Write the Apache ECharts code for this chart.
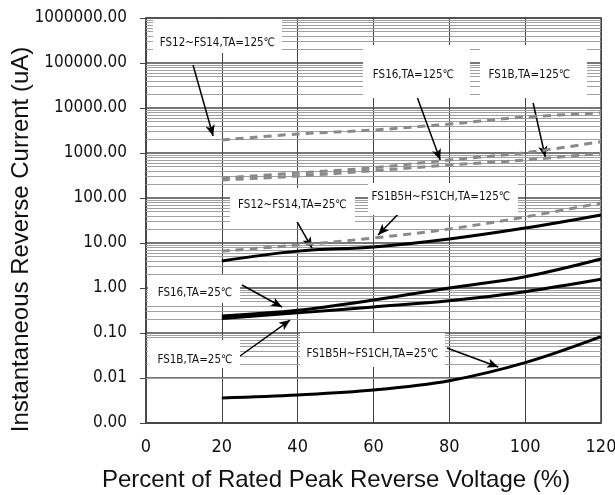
<!DOCTYPE html>
<html>
<head>
<meta charset="utf-8">
<script src="https://cdn.jsdelivr.net/npm/echarts@6/dist/echarts.min.js"></script>
<style>
  html, body { margin: 0; padding: 0; background: #fff; }
  #chart { width: 615px; height: 495px; }
</style>
</head>
<body>
<div id="chart"></div>
<script>
// percent of rated peak reverse voltage
var voltage = [20, 40, 60, 80, 100, 120];

// reverse current (uA)
var fs1214_125 = [1950, 2640, 3240, 4400, 6300, 7740];
var fs16_125 = [278, 359, 471, 699, 1016, 1780];
var fs1b_125 = [251, 308, 404, 541, 699, 985];
var fs1b5h_125 = [6.6, 9.0, 12.9, 20.5, 37.9, 77.7];
var fs1214_25 = [4.0, 6.6, 8.15, 12.3, 21.5, 41.9];
var fs16_25 = [0.24, 0.32, 0.54, 1.0, 1.78, 4.4];
var fs1b_25 = [0.21, 0.28, 0.38, 0.52, 0.83, 1.56];
var fs1b5h_25 = [0.0036, 0.0042, 0.0054, 0.0087, 0.0219, 0.0828];

var xTicks = [0, 20, 40, 60, 80, 100, 120];
var decades = [-3, -2, -1, 0, 1, 2, 3, 4, 5];

// callouts: text, box centre, arrow tail, arrow tip (data coords)
var notes = [
    { text: 'FS12~FS14,TA=125℃', box: [18.86, 398000], tail: [12.4, 90300], tip: [17.7, 2390] },
    { text: 'FS16,TA=125℃', box: [71.34, 64700], tail: [71.5, 17500], tip: [77.6, 699] },
    { text: 'FS1B,TA=125℃', box: [102.2, 64700], tail: [102.1, 12900], tip: [105.3, 815] },
    { text: 'FS12~FS14,TA=25℃', box: [38.64, 69.9], tail: [39.3, 35.9], tip: [43.8, 7.74] },
    { text: 'FS1B5H~FS1CH,TA=125℃', box: [78.33, 95], tail: [67.8, 57], tip: [61.2, 15.1] },
    { text: 'FS16,TA=25℃', box: [12.66, 0.95], tail: [25.3, 1.166], tip: [35.9, 0.378] },
    { text: 'FS1B,TA=25℃', box: [12.66, 0.0341], tail: [24.8, 0.0308], tip: [38, 0.194] },
    { text: 'FS1B5H~FS1CH,TA=25℃', box: [59.74, 0.0419], tail: [79.4, 0.0464], tip: [92.9, 0.0176] }
];
var boxSizes = [[129, 34], [107, 53], [107, 53], [125, 34], [150, 32], [92, 28], [92, 28], [145, 34]];
var textOffsets = [[0, 7], [-3, 4], [-4, 4], [0, 0], [-2, -2], [1, 4], [1, 6], [0, 4]];

var narrow = "'DejaVu Sans Condensed', 'Liberation Sans Narrow', Roboto, sans-serif";

var chart = echarts.init(document.getElementById('chart'));

function pairs(arr) {
    return voltage.map(function (v, i) { return [v, arr[i]]; });
}

function curve(name, arr, dashed) {
    return {
        name: name,
        type: 'line',
        data: pairs(arr),
        smooth: 0.35,
        showSymbol: false,
        z: 5,
        lineStyle: dashed
            ? { color: '#8a8a8a', width: 3, type: [8, 6] }
            : { color: '#000', width: 3 }
    };
}

// log minor grid lines 2..9 in each decade
var minorLines = [];
decades.forEach(function (d) {
    for (var k = 2; k <= 9; k++) {
        minorLines.push({ yAxis: k * Math.pow(10, d) });
    }
});

var option = {
    animation: false,
    backgroundColor: '#fff',
    grid: {
        left: 146, right: 14, top: 18, bottom: 72,
        outerBoundsMode: 'none',
        show: true, borderColor: '#444', borderWidth: 1.5
    },
    xAxis: {
        type: 'value',
        min: 0, max: 120, interval: 20,
        name: 'Percent of Rated Peak Reverse Voltage (%)',
        nameLocation: 'middle',
        nameGap: 45,
        nameTextStyle: { fontFamily: 'Liberation Sans', fontSize: 24, color: '#111', padding: [0, 75, 0, 0] },
        axisLine: { show: true, lineStyle: { color: '#444', width: 1.5 } },
        axisTick: { show: false },
        axisLabel: { fontFamily: narrow, fontSize: 18, color: '#111', margin: 15 },
        splitLine: { show: true, lineStyle: { color: '#444', width: 1 } }
    },
    yAxis: {
        type: 'log',
        logBase: 10,
        min: 0.001, max: 1000000,
        splitNumber: 9,
        name: 'Instantaneous Reverse Current (uA)',
        nameLocation: 'middle',
        nameGap: 113,
        nameMoveOverlap: false,
        nameTextStyle: { fontFamily: 'Liberation Sans', fontSize: 24, color: '#111', padding: [0, 38, 0, 0] },
        axisLine: { show: true, lineStyle: { color: '#444', width: 1.5 } },
        axisTick: { show: true, inside: false, length: 6, lineStyle: { color: '#444' } },
        axisLabel: {
            fontFamily: narrow, fontSize: 17, color: '#111', margin: 19,
            formatter: function (v) { return Number(v).toFixed(2); }
        },
        splitLine: { show: true, lineStyle: { color: '#4a4a4a', width: 1.5 } }
    },
    series: [
        {
            type: 'line', data: [], z: 1, silent: true,
            markLine: {
                silent: true, symbol: ['none', 'none'],
                label: { show: false },
                lineStyle: { color: '#a0a0a0', width: 1, type: 'solid' },
                data: minorLines
            }
        },
        {
            type: 'line', data: [], z: 3, silent: true,
            markPoint: {
                silent: true,
                data: notes.map(function (n, i) {
                    return {
                        coord: n.box,
                        symbol: 'rect',
                        symbolSize: boxSizes[i],
                        itemStyle: { color: '#fff' },
                        label: {
                            show: true, position: 'inside', formatter: n.text,
                            offset: textOffsets[i],
                            fontFamily: narrow, fontSize: 11.5, color: '#111'
                        }
                    };
                })
            }
        },
        curve('FS12~FS14,TA=125℃', fs1214_125, true),
        curve('FS16,TA=125℃', fs16_125, true),
        curve('FS1B,TA=125℃', fs1b_125, true),
        curve('FS1B5H~FS1CH,TA=125℃', fs1b5h_125, true),
        curve('FS12~FS14,TA=25℃', fs1214_25, false),
        curve('FS16,TA=25℃', fs16_25, false),
        curve('FS1B,TA=25℃', fs1b_25, false),
        curve('FS1B5H~FS1CH,TA=25℃', fs1b5h_25, false),
        {
            type: 'line', data: [], z: 6, silent: true,
            markLine: {
                silent: true,
                symbol: ['none', 'arrow'],
                symbolSize: [7, 11],
                label: { show: false },
                lineStyle: { color: '#000', width: 1.5, type: 'solid' },
                data: notes.map(function (n) {
                    return [{ coord: n.tail }, { coord: n.tip }];
                })
            }
        }
    ]
};

chart.setOption(option);
</script>
</body>
</html>
